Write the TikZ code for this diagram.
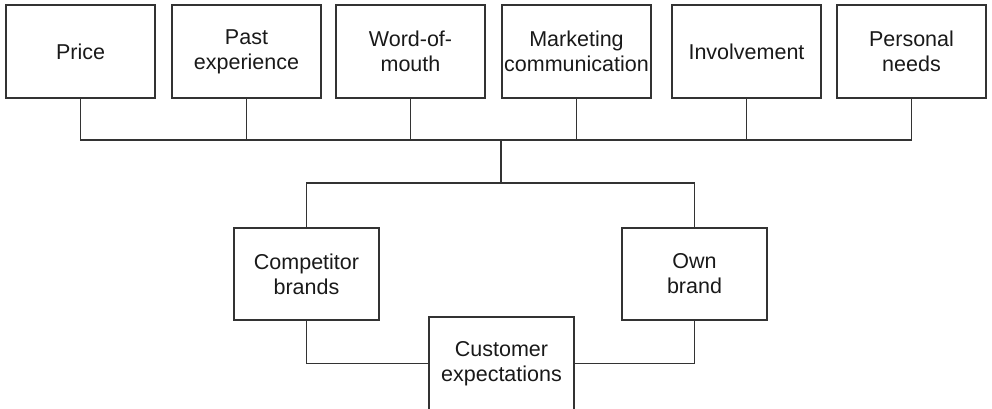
\documentclass[tikz,border=0pt]{standalone}
\usepackage{fontspec}
\setmainfont{Liberation Sans}
\begin{document}
\begin{tikzpicture}[x=1pt,y=-1pt,
  every node/.style={font=\fontsize{21.5}{25}\selectfont, text=black!90, align=center},
  topbox/.style={draw=black!80, line width=1.3pt, minimum width=149pt, minimum height=93pt, inner sep=0pt},
  lowbox/.style={draw=black!80, line width=1.3pt, minimum width=145pt, minimum height=92pt, inner sep=0pt},
  link/.style={draw=black!80, line width=1.3pt}]
\useasboundingbox (0,0) rectangle (992,409);
\clip (0,0) rectangle (992,409);
\node[topbox] (price) at (80.5,51.5) {Price};
\node[topbox] (past) at (246.5,51.5) {Past\\experience};
\node[topbox] (word) at (410.5,51.5) {Word-of-\\mouth};
\node[topbox] (market) at (576.5,51.5) {Marketing\\communication};
\node[topbox] (invol) at (746.5,51.5) {Involvement};
\node[topbox] (pers) at (911.5,51.5) {Personal\\needs};
\node[lowbox] (comp) at (306.5,274) {Competitor\\brands};
\node[lowbox] (own) at (694.5,274) {Own\\brand};
\node[lowbox, minimum height=93pt] (cust) at (501.5,363.5) {Customer\\expectations};
\coordinate (hub) at (501,140);
\coordinate (split) at (501,183);
\foreach \n in {price,past,word,market,invol,pers}
  \draw[link] (\n.south) |- (hub);
\draw[link] (hub) -- (split);
\draw[link] (split) -| (comp.north);
\draw[link] (split) -| (own.north);
\draw[link] (comp.south) |- (cust.west);
\draw[link] (own.south) |- (cust.east);
\end{tikzpicture}
\end{document}
